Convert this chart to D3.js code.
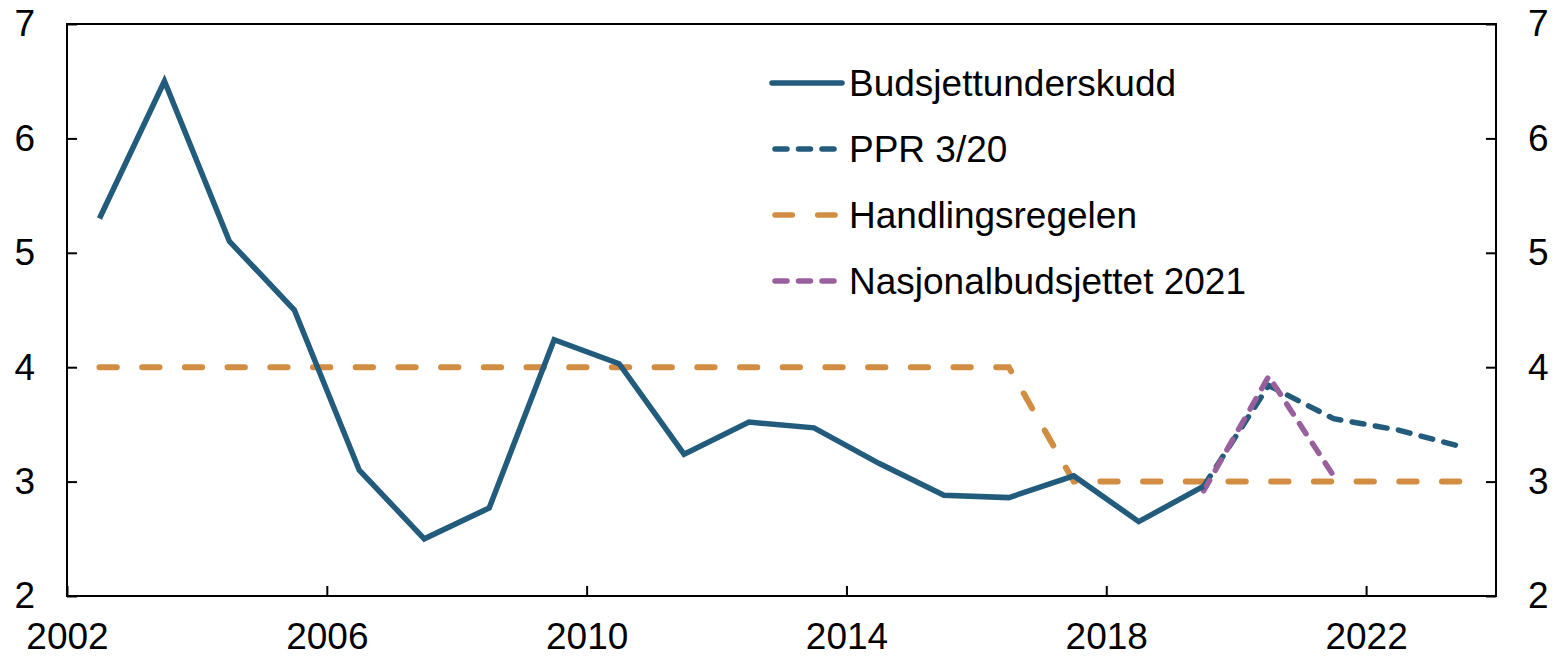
<!DOCTYPE html>
<html>
<head>
<meta charset="utf-8">
<script src="https://cdn.jsdelivr.net/npm/d3@7"></script>
<style>
  body { margin: 0; background: #fff; }
  text { font-family: "Liberation Sans", Arial, sans-serif; fill: #000; }
</style>
</head>
<body>
<div id="vis-container"></div>
<script>
// data (years plotted at mid-year)
var budsjettYears = [2002, 2003, 2004, 2005, 2006, 2007, 2008, 2009, 2010, 2011, 2012, 2013, 2014, 2015, 2016, 2017, 2018, 2019];
var budsjettValues = [5.3, 6.5, 5.1, 4.5, 3.1, 2.5, 2.77, 4.24, 4.03, 3.24, 3.52, 3.47, 3.16, 2.88, 2.86, 3.05, 2.65, 2.96];

var pprYears = [2019, 2020, 2021, 2022, 2023];
var pprValues = [2.96, 3.84, 3.55, 3.45, 3.3];

var regelYears = [2002, 2003, 2004, 2005, 2006, 2007, 2008, 2009, 2010, 2011, 2012, 2013, 2014, 2015, 2016, 2017, 2018, 2019, 2020, 2021, 2022, 2023];
var regelValues = [4, 4, 4, 4, 4, 4, 4, 4, 4, 4, 4, 4, 4, 4, 4, 3, 3, 3, 3, 3, 3, 3];

var nbYears = [2019, 2020, 2021];
var nbValues = [2.92, 3.92, 3.05];

var yTicks = [2, 3, 4, 5, 6, 7];
var xTicks = [2002, 2006, 2010, 2014, 2018, 2022];

var legendLabels = ["Budsjettunderskudd", "PPR 3/20", "Handlingsregelen", "Nasjonalbudsjettet 2021"];

// set the dimensions and margins of the graph
var margin = { top: 24, right: 59, bottom: 61, left: 67 },
  width = 1555 - margin.left - margin.right,
  height = 657 - margin.top - margin.bottom;

var svg = d3
  .select("#vis-container")
  .append("svg")
  .attr("width", width + margin.left + margin.right)
  .attr("height", height + margin.top + margin.bottom)
  .append("g")
  .attr("transform", "translate(" + margin.left + "," + margin.top + ")");

var x = d3.scaleLinear().domain([2002, 2024]).range([0, width]);
var y = d3.scaleLinear().domain([2, 7]).range([height, 0]);

var blue = "#225b7b",
  orange = "#d18d42",
  purple = "#98609c";

// axes, ticks pointing inward
var fontSize = 37;
var leftAxis = svg.append("g")
  .call(d3.axisLeft(y).tickValues(yTicks).tickSize(-10).tickPadding(32).tickFormat(d3.format("d")));
var rightAxis = svg.append("g")
  .attr("transform", "translate(" + width + ",0)")
  .call(d3.axisRight(y).tickValues(yTicks).tickSize(-10).tickPadding(32).tickFormat(d3.format("d")));
var bottomAxis = svg.append("g")
  .attr("transform", "translate(0," + height + ")")
  .call(d3.axisBottom(x).tickValues(xTicks).tickSize(-10).tickPadding(27).tickFormat(d3.format("d")));

[leftAxis, rightAxis, bottomAxis].forEach((a) => {
  a.select(".domain").remove();
  a.selectAll("line").attr("stroke", "#000").attr("stroke-width", 2);
  a.selectAll("text").style("font-size", fontSize + "px").style("font-family", "Liberation Sans, Arial, sans-serif");
});

// frame
svg.append("rect")
  .attr("x", 0).attr("y", 0)
  .attr("width", width).attr("height", height)
  .attr("fill", "none").attr("stroke", "#000").attr("stroke-width", 2);

var line = d3.line()
  .x((d) => x(d[0] + 0.5))
  .y((d) => y(d[1]));

var series = [
  { years: regelYears, values: regelValues, color: orange, dash: "17.3,25.4", width: 6 },
  { years: pprYears, values: pprValues, color: blue, dash: "12,11.5", width: 5.5 },
  { years: nbYears, values: nbValues, color: purple, dash: "12,11.5", width: 5.5 },
  { years: budsjettYears, values: budsjettValues, color: blue, dash: null, width: 5.5 }
];

series.forEach((s) => {
  svg.append("path")
    .datum(d3.zip(s.years, s.values))
    .attr("d", line)
    .attr("fill", "none")
    .attr("stroke", s.color)
    .attr("stroke-width", s.width)
    .attr("stroke-linecap", s.dash ? "round" : "butt")
    .attr("stroke-linejoin", "miter")
    .attr("stroke-dasharray", s.dash);
});

// legend
var legendStyles = [
  { color: blue, dash: null },
  { color: blue, dash: "12,11.5" },
  { color: orange, dash: "17.3,25.4" },
  { color: purple, dash: "12,11.5" }
];

var legend = svg.append("g")
  .attr("transform", "translate(" + (772 - margin.left) + "," + (83 - margin.top) + ")");

legend.selectAll("line")
  .data(legendLabels)
  .enter()
  .append("line")
  .attr("x1", (d, i) => legendStyles[i].dash ? 3 : 0)
  .attr("x2", (d, i) => legendStyles[i].dash ? 68 : 70)
  .attr("y1", (d, i) => i * 66)
  .attr("y2", (d, i) => i * 66)
  .attr("stroke", (d, i) => legendStyles[i].color)
  .attr("stroke-width", 5.5)
  .attr("stroke-linecap", "round")
  .attr("stroke-dasharray", (d, i) => legendStyles[i].dash);

legend.selectAll("text")
  .data(legendLabels)
  .enter()
  .append("text")
  .attr("x", 77)
  .attr("y", (d, i) => i * 66)
  .attr("dy", "0.35em")
  .style("font-size", fontSize + "px")
  .text((d) => d);
</script>
</body>
</html>
